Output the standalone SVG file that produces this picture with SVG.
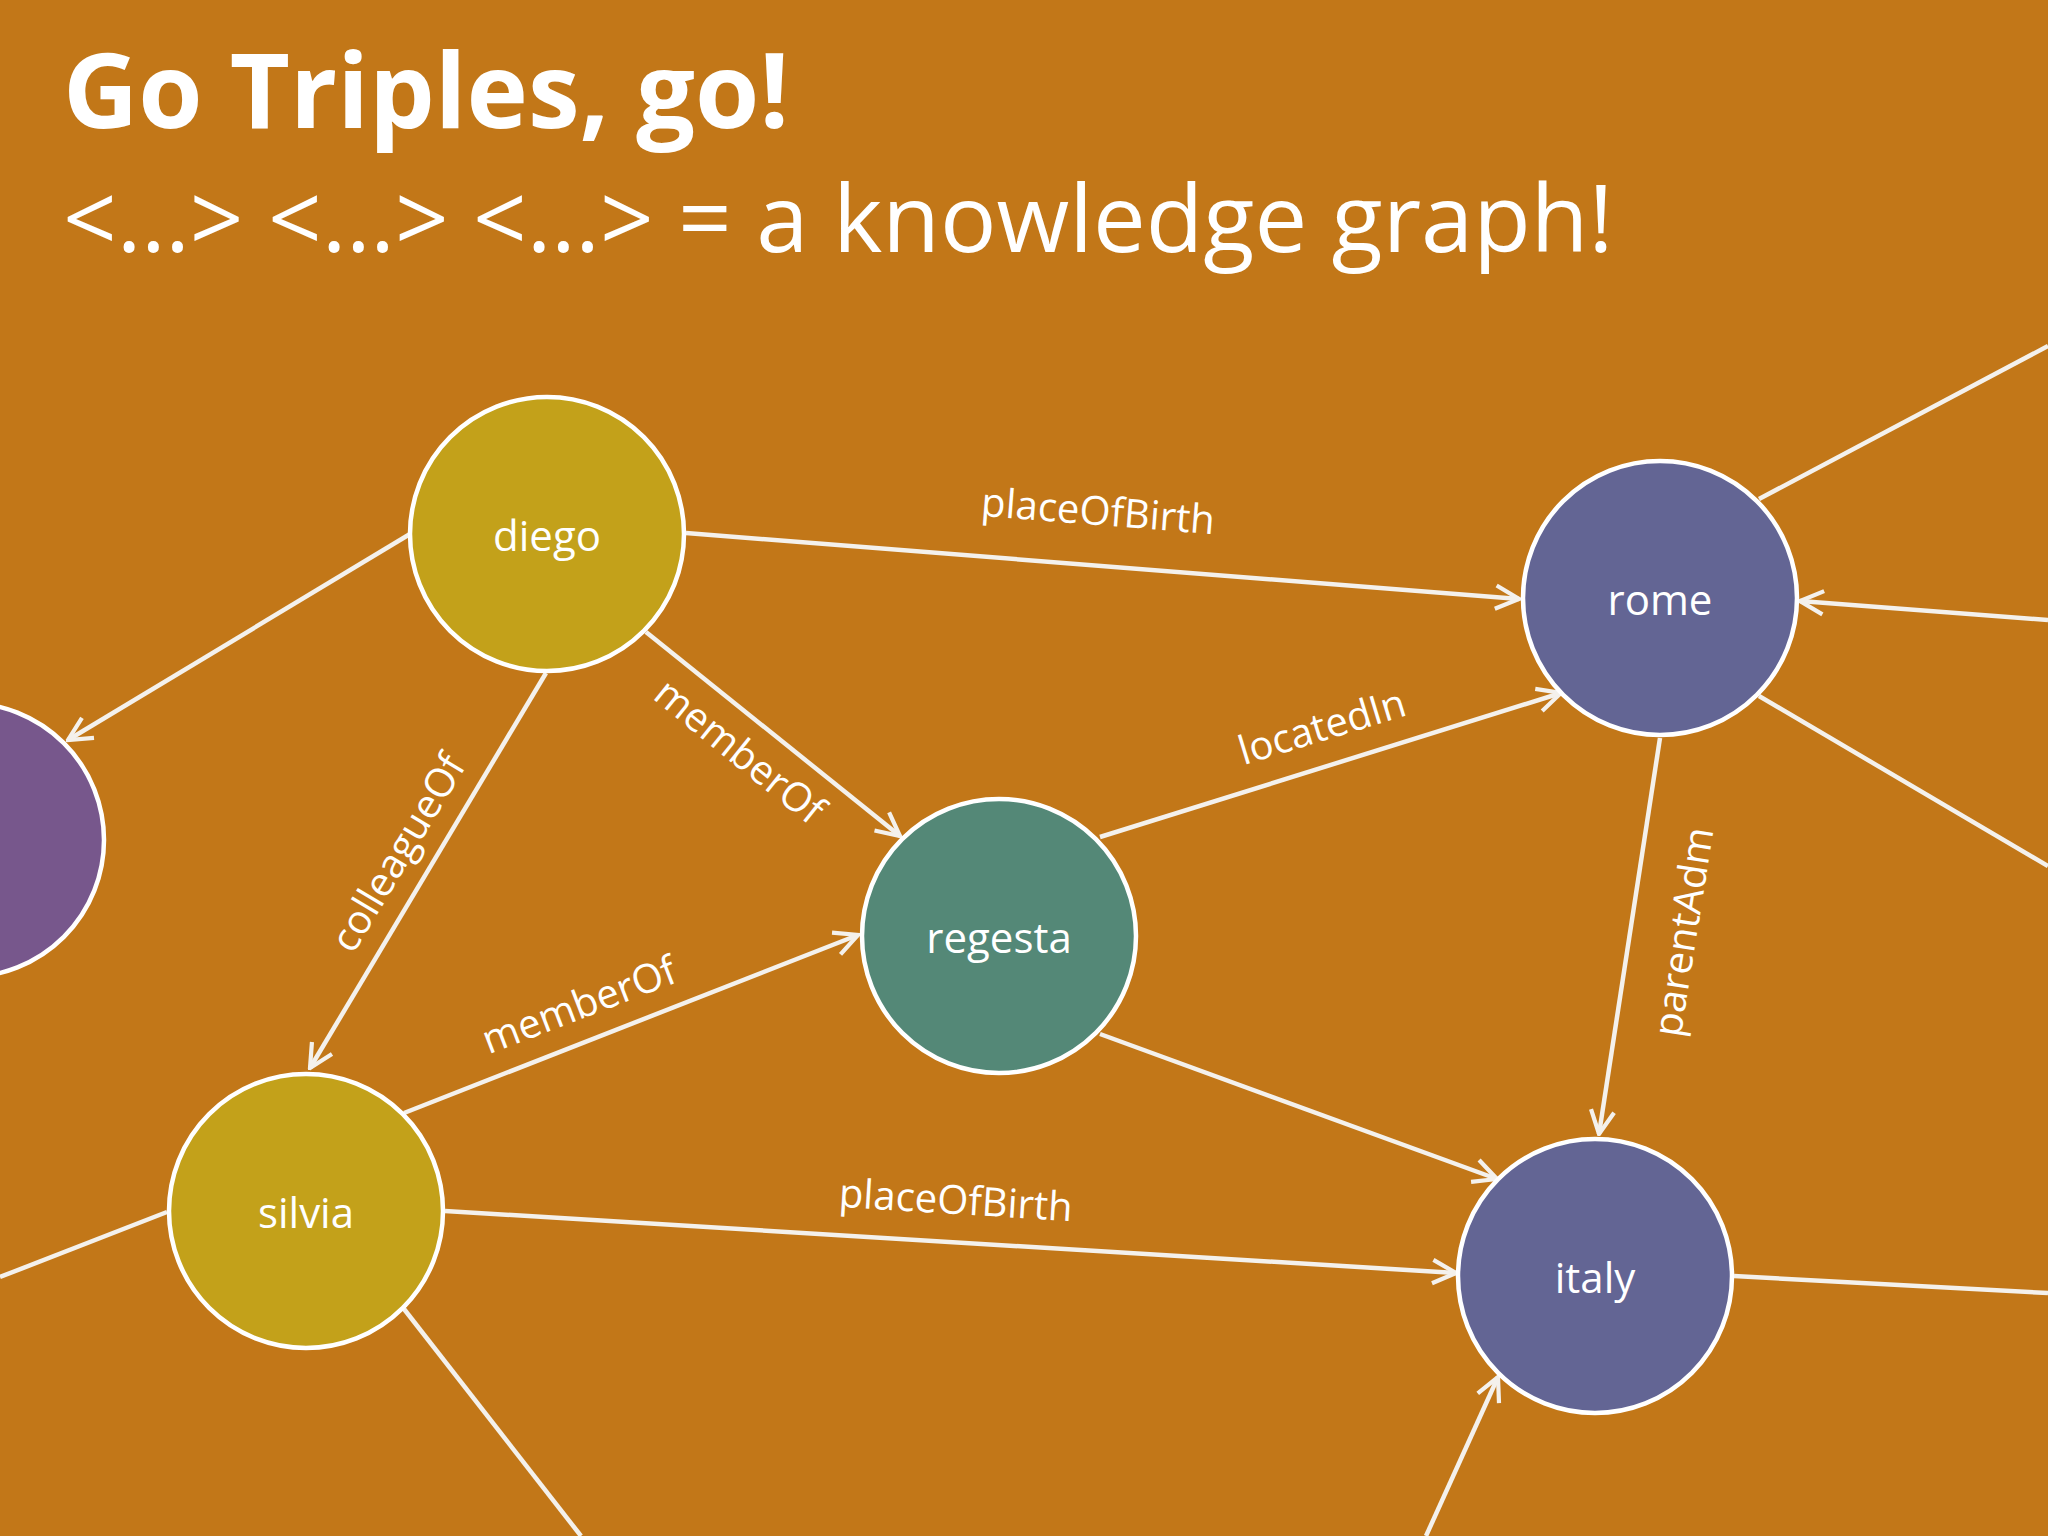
<svg xmlns="http://www.w3.org/2000/svg" width="2048" height="1536" viewBox="0 0 2048 1536">
<style>
.t{font-family:"Open Sans","Noto Sans",sans-serif;fill:#fff}
.n{stroke:#fff;stroke-width:4.5}
.nl{font-family:"Open Sans","Noto Sans",sans-serif;fill:#fff;font-size:42px;text-anchor:middle;dominant-baseline:central}
.e line{stroke:#f4f1ec;stroke-width:4.5}
.el{font-family:"Open Sans","Noto Sans",sans-serif;fill:#fff;font-size:40px;text-anchor:middle}
</style>
<defs>
<marker id="a" viewBox="0 0 12 12" refX="11" refY="6" markerWidth="28" markerHeight="28" markerUnits="userSpaceOnUse" orient="auto">
<path d="M1,1 L11,6 L1,11" fill="none" stroke="#f4f1ec" stroke-width="1.8"/>
</marker>
</defs>
<rect width="2048" height="1536" fill="#C27718"/>
<text class="t" x="63" y="128" font-size="104" font-weight="bold">Go Triples, go!</text>
<text class="t" x="63" y="252" font-size="94">&lt;…&gt; &lt;…&gt; &lt;…&gt; = a knowledge graph!</text>
<g class="e" id="connectors">
<line x1="686" y1="533" x2="1519" y2="599" marker-end="url(#a)"/>
<line x1="410" y1="534" x2="68" y2="740" marker-end="url(#a)"/>
<line x1="646" y1="632" x2="900" y2="836" marker-end="url(#a)"/>
<line x1="546" y1="673" x2="310" y2="1068" marker-end="url(#a)"/>
<line x1="404" y1="1113" x2="858" y2="935" marker-end="url(#a)"/>
<line x1="1100" y1="837" x2="1561" y2="693" marker-end="url(#a)"/>
<line x1="1100" y1="1034" x2="1497" y2="1179" marker-end="url(#a)"/>
<line x1="1660" y1="738" x2="1599" y2="1134" marker-end="url(#a)"/>
<line x1="445" y1="1211" x2="1456" y2="1273" marker-end="url(#a)"/>
<line x1="1759" y1="499" x2="2048" y2="346"/>
<line x1="2048" y1="620" x2="1800" y2="601" marker-end="url(#a)"/>
<line x1="1759" y1="696" x2="2048" y2="866"/>
<line x1="1734" y1="1276" x2="2048" y2="1293"/>
<line x1="167" y1="1212" x2="0" y2="1277"/>
<line x1="404" y1="1309" x2="581" y2="1536"/>
<line x1="1426" y1="1536" x2="1498" y2="1377" marker-end="url(#a)"/>
<text class="el" transform="translate(1097,525) rotate(4.5)">placeOfBirth</text>
<text class="el" transform="translate(731,762) rotate(39)">memberOf</text>
<text class="el" transform="translate(410,860) rotate(-59)">colleagueOf</text>
<text class="el" transform="translate(584,1018) rotate(-21)">memberOf</text>
<text class="el" transform="translate(1326,740) rotate(-17)">locatedIn</text>
<text class="el" transform="translate(1697,934) rotate(-81)">parentAdm</text>
<text class="el" transform="translate(955,1214) rotate(3.5)">placeOfBirth</text>
</g>
<g id="left"><circle class="n" cx="-33" cy="840" r="137" fill="#77578C"/></g>
<g id="diego"><circle class="n" cx="547" cy="534" r="137" fill="#C3A11A"/><text class="nl" x="547" y="534">diego</text></g>
<g id="rome"><circle class="n" cx="1660" cy="598" r="137" fill="#636594"/><text class="nl" x="1660" y="598">rome</text></g>
<g id="regesta"><circle class="n" cx="999" cy="936" r="137" fill="#548877"/><text class="nl" x="999" y="936">regesta</text></g>
<g id="silvia"><circle class="n" cx="306" cy="1211" r="137" fill="#C3A11A"/><text class="nl" x="306" y="1211">silvia</text></g>
<g id="italy"><circle class="n" cx="1595" cy="1276" r="137" fill="#636594"/><text class="nl" x="1595" y="1276">italy</text></g>
</svg>
